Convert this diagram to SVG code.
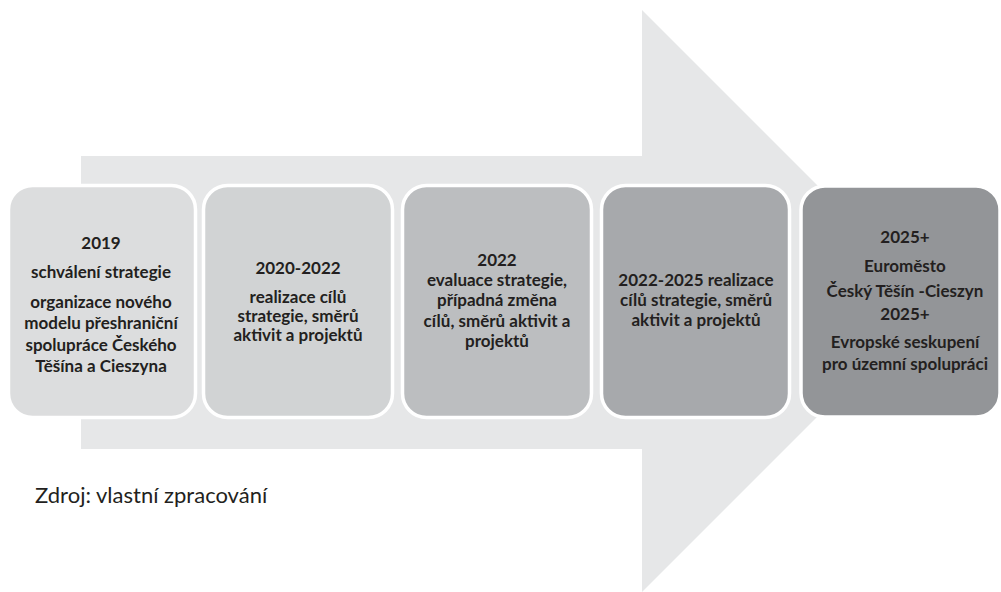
<svg xmlns="http://www.w3.org/2000/svg" width="1001" height="592" viewBox="0 0 1001 592">
<style>
.box{stroke:#ffffff;stroke-width:3.5}
.t{font-family:Lato,"Liberation Sans",sans-serif;font-weight:bold;font-size:17px;fill:#231f20;text-anchor:middle}
.cap{font-family:Lato,"Liberation Sans",sans-serif;font-size:22px;fill:#231f20}
</style>
<rect width="1001" height="592" fill="#ffffff"/>
<g id="connectors">
<polygon id="arrow" points="81,156 642,156 642,10 933,301 642,592 642,449 81,449" fill="#e6e7e8"/>
</g>
<g id="node1">
<rect class="box" x="8.5" y="185.5" width="187" height="232" rx="24" fill="#dcddde"/>
<text class="t" x="101" y="249">2019</text>
<text class="t" x="101" y="278">schválení strategie</text>
<text class="t" x="101" y="308">organizace nového</text>
<text class="t" x="101" y="329">modelu přeshraniční</text>
<text class="t" x="101" y="351">spolupráce Českého</text>
<text class="t" x="101" y="372">Těšína a Cieszyna</text>
</g>
<g id="node2">
<rect class="box" x="203.5" y="185.5" width="189" height="232" rx="24" fill="#d1d3d4"/>
<text class="t" x="298" y="274">2020-2022</text>
<text class="t" x="298" y="303">realizace cílů</text>
<text class="t" x="298" y="322">strategie, směrů</text>
<text class="t" x="298" y="341">aktivit a projektů</text>
</g>
<g id="node3">
<rect class="box" x="402.5" y="185.5" width="189" height="232" rx="24" fill="#bcbec0"/>
<text class="t" x="497" y="266">2022</text>
<text class="t" x="497" y="286">evaluace strategie,</text>
<text class="t" x="497" y="306">případná změna</text>
<text class="t" x="497" y="327">cílů, směrů aktivit a</text>
<text class="t" x="497" y="347">projektů</text>
</g>
<g id="node4">
<rect class="box" x="601.5" y="185.5" width="188" height="232" rx="24" fill="#a7a9ac"/>
<text class="t" x="696" y="286">2022-2025 realizace</text>
<text class="t" x="696" y="306">cílů strategie, směrů</text>
<text class="t" x="696" y="326">aktivit a projektů</text>
</g>
<g id="node5">
<rect class="box" x="801" y="186" width="199" height="231" rx="24" fill="#939598"/>
<text class="t" x="905" y="243">2025+</text>
<text class="t" x="905" y="272">Euroměsto</text>
<text class="t" x="905" y="297">Český Těšín -Cieszyn</text>
<text class="t" x="905" y="320">2025+</text>
<text class="t" x="905" y="348">Evropské seskupení</text>
<text class="t" x="905" y="370">pro územní spolupráci</text>
</g>
<text class="cap" x="35" y="503">Zdroj: vlastní zpracování</text>
</svg>
